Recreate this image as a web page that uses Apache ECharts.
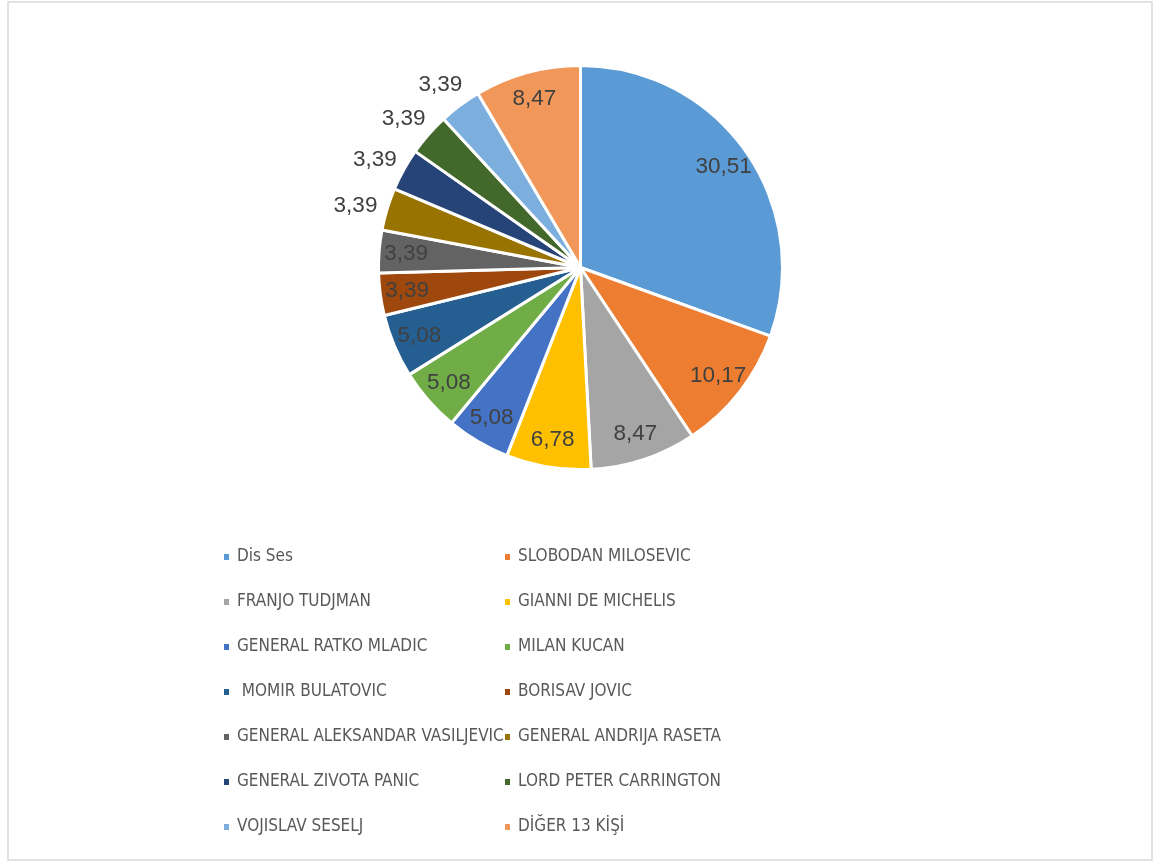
<!DOCTYPE html>
<html>
<head>
<meta charset="utf-8">
<script src="https://cdn.jsdelivr.net/npm/echarts@6/dist/echarts.min.js"></script>
<style>
  html, body { margin: 0; padding: 0; background: #ffffff; }
  #chart { width: 1165px; height: 862px; }
</style>
</head>
<body>
<div id="chart"></div>
<script>
// Share of mentions per person (percent)
const names = [
  'Dis Ses', 'SLOBODAN MILOSEVIC', 'FRANJO TUDJMAN', 'GIANNI DE MICHELIS',
  'GENERAL RATKO MLADIC', 'MILAN KUCAN', ' MOMIR BULATOVIC', 'BORISAV JOVIC',
  'GENERAL ALEKSANDAR VASILJEVIC', 'GENERAL ANDRIJA RASETA', 'GENERAL ZIVOTA PANIC',
  'LORD PETER CARRINGTON', 'VOJISLAV SESELJ', 'DİĞER 13 KİŞİ'
];
const values = [30.51, 10.17, 8.47, 6.78, 5.08, 5.08, 5.08, 3.39, 3.39, 3.39, 3.39, 3.39, 3.39, 8.47];
const colors = [
  '#5B9BD5', '#ED7D31', '#A5A5A5', '#FFC000', '#4472C4', '#70AD47', '#255E91',
  '#9E480E', '#636363', '#997300', '#264478', '#43682B', '#7CAFDD', '#F1975A'
];
// Slices whose value label sits outside the pie
const labelOutside = [false, false, false, false, false, false, false, false, false, true, true, true, true, false];

const fmt = v => v.toFixed(2).replace('.', ',');
const CENTER = [580.5, 267.5];
const R = 202;
const labelFont = "'Liberation Sans', Arial, sans-serif";
const legendFont = "'Liberation Sans Narrow', 'DejaVu Sans Condensed', 'Liberation Sans', sans-serif";

const pieData = names.map((n, i) => ({ name: n, value: values[i], itemStyle: { color: colors[i] } }));

// Transparent rings that only carry the value labels at the wanted radius
const ringData = (outside) => names.map((n, i) => ({
  name: n,
  value: values[i],
  label: { show: labelOutside[i] === outside }
}));

const ringBase = {
  type: 'pie',
  center: CENTER,
  startAngle: 90,
  silent: true,
  animation: false,
  legendHoverLink: false,
  itemStyle: { color: 'rgba(0,0,0,0)', borderWidth: 0 },
  emphasis: { disabled: true },
  labelLine: { show: false },
  label: {
    position: 'inside',
    formatter: p => fmt(p.value),
    color: '#404040',
    fontSize: 22.5,
    fontFamily: labelFont
  }
};

const legendBase = {
  orient: 'vertical',
  top: 547,
  padding: 0,
  icon: 'rect',
  itemWidth: 7,
  itemHeight: 8,
  itemGap: 25,
  selectedMode: false,
  textStyle: {
    color: '#595959',
    fontSize: 17,
    lineHeight: 20,
    fontFamily: legendFont,
    padding: [0, 0, 0, 2]
  }
};

const chart = echarts.init(document.getElementById('chart'), null, { renderer: 'canvas' });
chart.setOption({
  animation: false,
  backgroundColor: '#ffffff',
  graphic: [{
    type: 'rect',
    shape: { x: 8, y: 2, width: 1144, height: 858 },
    style: { fill: 'none', stroke: '#d9d9d9', lineWidth: 1.5 },
    silent: true
  }],
  legend: [
    Object.assign({}, legendBase, { left: 222, data: names.filter((_, i) => i % 2 === 0) }),
    Object.assign({}, legendBase, { left: 503, data: names.filter((_, i) => i % 2 === 1) })
  ],
  series: [
    {
      type: 'pie',
      center: CENTER,
      radius: [0, R],
      startAngle: 90,
      animation: false,
      data: pieData,
      itemStyle: { borderColor: '#ffffff', borderWidth: 3 },
      label: { show: false },
      labelLine: { show: false },
      emphasis: { scale: false }
    },
    Object.assign({}, ringBase, { radius: [R - 60, R], data: ringData(false) }),
    Object.assign({}, ringBase, {
      radius: [R, R + 60],
      data: ringData(true),
      labelLayout: { dy: 6 }
    })
  ]
});
</script>
</body>
</html>
